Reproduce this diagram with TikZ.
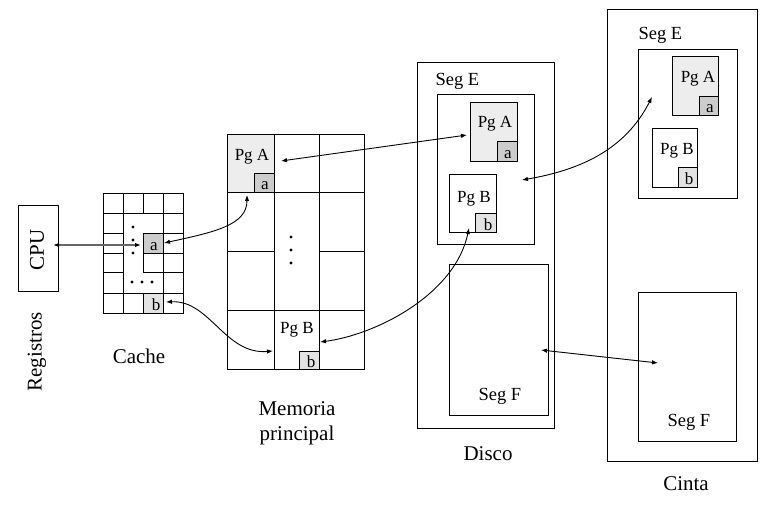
\documentclass[tikz,border=0pt]{standalone}
\usepackage{fontspec}
\setmainfont{Liberation Serif}
\usetikzlibrary{arrows.meta,fit}
\definecolor{pgfill}{gray}{0.93}
\definecolor{afill}{gray}{0.80}
\definecolor{bfill}{gray}{0.89}
\begin{document}
\begin{tikzpicture}[x=1pt,y=-1pt, line width=1pt,
  box/.style={draw, inner sep=0pt, line width=1pt},
  conn/.style={{Latex[length=6pt,width=4.5pt]}-{Latex[length=6pt,width=4.5pt]}, line width=0.9pt},
  pg/.style={font=\fontsize{17}{20}\selectfont, inner sep=0pt, anchor=base},
  seg/.style={font=\fontsize{18.5}{22}\selectfont, inner sep=0pt, anchor=base west},
  lbl/.style={font=\fontsize{21}{25}\selectfont, inner sep=0pt, anchor=base, align=center},
  lett/.style={font=\fontsize{17}{20}\selectfont, inner sep=0pt, anchor=base},
  dot/.style={fill, circle, inner sep=0pt, minimum size=3.4pt},
]
\useasboundingbox (0,0) rectangle (766,513);

% ---------- CPU ----------
\node[box, fit={(18,206) (58,291)}] (cpu) {};
\node[font=\fontsize{21}{25}\selectfont, inner sep=0pt, rotate=90] (cputxt) at (37,250) {CPU};
\node[font=\fontsize{21}{25}\selectfont, inner sep=0pt, rotate=90] (registros) at (37,352) {Registros};

% ---------- Cache ----------
\node[box, fit={(103,194) (183,313)}] (cache) {};
\draw (123,194) -- (123,313);
\draw (163,194) -- (163,313);
\draw (143,194) -- (143,214);
\draw (143,254) -- (143,273);
\draw (143,293) -- (143,313);
\draw (103,214) -- (183,214);
\draw (103,234) -- (123,234) (143,234) -- (183,234);
\draw (103,254) -- (123,254) (143,254) -- (183,254);
\draw (103,273) -- (123,273) (143,273) -- (183,273);
\draw (103,293) -- (183,293);
\node[box, fill=afill, fit={(143,234) (163,254)}] (ca) {};
\node[lett] (catxt) at (154,251) {a};
\node[box, fill=bfill, fit={(143,293) (163,313)}] (cb) {};
\node[lett] (cbtxt) at (156,310) {b};
\node[dot] (cd1) at (133,227) {};
\node[dot] (cd2) at (133,240) {};
\node[dot] (cd3) at (133,253) {};
\node[dot] (cd4) at (132,282) {};
\node[dot] (cd5) at (142,282) {};
\node[dot] (cd6) at (152,282) {};
\node[lbl] (cachetxt) at (139,363) {Cache};

% ---------- Memoria principal ----------
\node[box, fill=pgfill, fit={(227,135) (274,193)}] (mpga) {};
\node[box, fit={(227,135) (364,369)}] (mem) {};
\draw (274,135) -- (274,369);
\draw (319,135) -- (319,369);
\draw (227,193) -- (364,193);
\draw (227,252) -- (274,252) (319,252) -- (364,252);
\draw (227,310) -- (364,310);
\node[box, fit={(274,310) (319,369)}] (mpgb) {};
\node[pg] (mpgatxt) at (252,161) {Pg A};
\node[box, fill=afill, fit={(254,174) (274,193)}] (ma) {};
\node[lett] (matxt) at (265,190) {a};
\node[pg] (mpgbtxt) at (297,333) {Pg B};
\node[box, fill=bfill, fit={(299,351) (319,369)}] (mb) {};
\node[lett] (mbtxt) at (311,367) {b};
\node[dot] (md1) at (291,237) {};
\node[dot] (md2) at (291,250) {};
\node[dot] (md3) at (291,263) {};
\node[lbl] (memtxt) at (297,440) {Memoria\\principal};

% ---------- Disco ----------
\node[box, fit={(417,63) (554,428)}] (disco) {};
\node[seg] (dsegetxt) at (435,86) {Seg E};
\node[box, fit={(437,95) (534,245)}] (dsege) {};
\node[box, fill=pgfill, fit={(470,103) (517,162)}] (dpga) {};
\node[pg] (dpgatxt) at (495,128) {Pg A};
\node[box, fill=afill, fit={(497,142) (517,162)}] (da) {};
\node[lett] (datxt) at (508,159) {a};
\node[box, fit={(449,175) (496,233)}] (dpgb) {};
\node[pg] (dpgbtxt) at (474,203) {Pg B};
\node[box, fill=bfill, fit={(475,214) (496,233)}] (db) {};
\node[lett] (dbtxt) at (488,231) {b};
\node[box, fit={(449,265) (548,415)}] (dsegf) {};
\node[seg] (dsegftxt) at (478,400) {Seg F};
\node[lbl] (discotxt) at (488,460) {Disco};

% ---------- Cinta ----------
\node[box, fit={(607,10) (757,461)}] (cinta) {};
\node[seg] (csegetxt) at (638,40) {Seg E};
\node[box, fit={(638,50) (737,199)}] (csege) {};
\node[box, fill=pgfill, fit={(672,57) (718,116)}] (cpga) {};
\node[pg] (cpgatxt) at (698,83) {Pg A};
\node[box, fill=afill, fit={(699,97) (718,116)}] (caa) {};
\node[lett] (caatxt) at (710,113) {a};
\node[box, fit={(652,129) (697,188)}] (cpgb) {};
\node[pg] (cpgbtxt) at (677,155) {Pg B};
\node[box, fill=bfill, fit={(678,168) (697,188)}] (cbb) {};
\node[lett] (cbbtxt) at (689,185) {b};
\node[box, fit={(638,292) (736,441)}] (csegf) {};
\node[seg] (csegftxt) at (667,426) {Seg F};
\node[lbl] (cintatxt) at (686,490) {Cinta};

% ---------- connector end points ----------
\coordinate (e1a) at (53,245);
\coordinate (e1b) at (141,245);
\coordinate (e2a) at (164,243);
\coordinate (e2b) at (247,195);
\coordinate (e3a) at (166,302);
\coordinate (e3b) at (273,351);
\coordinate (e4a) at (281,161);
\coordinate (e4b) at (467,135);
\coordinate (e5a) at (320,342);
\coordinate (e5b) at (469,228);
\coordinate (e6a) at (522,180);
\coordinate (e6b) at (652,97);
\coordinate (e7a) at (541,350);
\coordinate (e7b) at (658,363);

% ---------- connectors ----------
\draw[conn, draw=black!60, line width=1.3pt, {Latex[length=6pt,width=4.5pt,color=black]}-{Latex[length=6pt,width=4.5pt,color=black]}] (e1a) -- (e1b);
\draw[conn] (e2a) .. controls (215,232) and (247,225) .. (e2b);
\draw[conn] (e3a) .. controls (210,300) and (225,355) .. (e3b);
\draw[conn] (e4a) -- (e4b);
\draw[conn] (e5a) .. controls (375,335) and (455,295) .. (e5b);
\draw[conn] (e6a) .. controls (580,170) and (625,150) .. (e6b);
\draw[conn] (e7a) -- (e7b);
\end{tikzpicture}
\end{document}
